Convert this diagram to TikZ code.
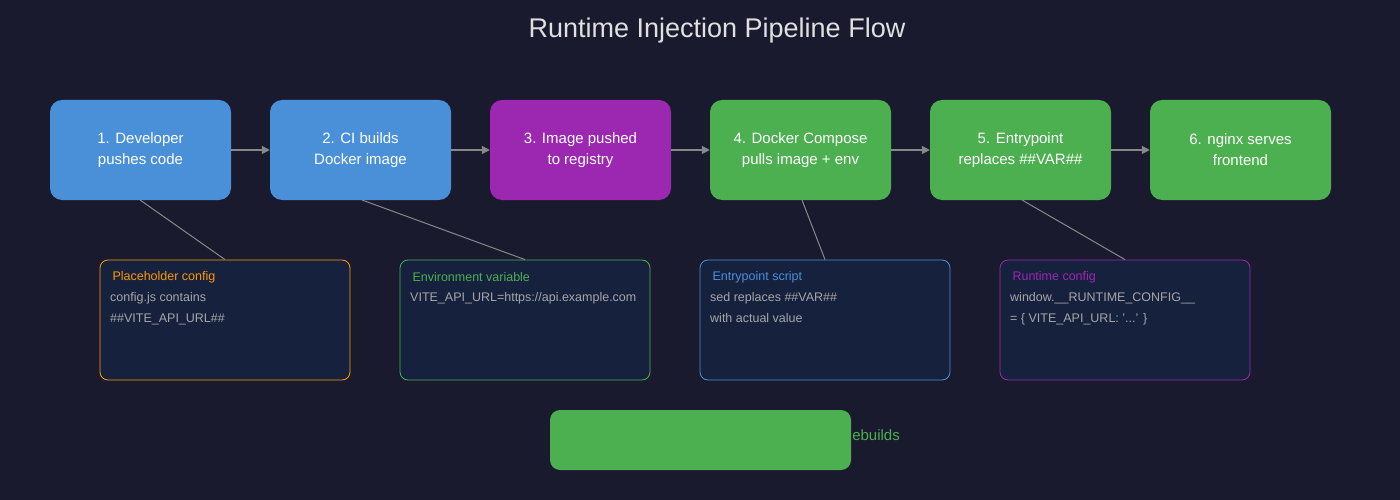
\documentclass[tikz,border=0pt]{standalone}
\usepackage{fontspec}
\setmainfont{Liberation Sans}
\usetikzlibrary{arrows.meta}
\definecolor{bg}{HTML}{1A1A2E}
\definecolor{cblue}{HTML}{4A90D9}
\definecolor{cpurple}{HTML}{9C27B0}
\definecolor{cgreen}{HTML}{4CAF50}
\definecolor{corange}{HTML}{FF9800}
\definecolor{notefill}{HTML}{16213E}
\definecolor{cgray}{HTML}{888888}
\begin{document}
\begin{tikzpicture}[x=1pt,y=-1pt,
 stagebox/.style={rounded corners=12pt,minimum width=181pt,minimum height=100pt,text=white,align=center,font=\fontsize{15}{21}\selectfont,inner sep=0pt},
 note/.style={draw,fill=notefill,rounded corners=8pt,minimum width=250pt,minimum height=120pt,line width=0.8pt},
 ntitle/.style={anchor=west,font=\fontsize{12.5}{15}\selectfont},
 nbody/.style={anchor=north west,align=left,text=gray!70!white,font=\fontsize{12.5}{21}\selectfont,inner sep=0pt},
 arr/.style={draw=cgray,line width=1.5pt,-{Triangle[length=8pt,width=8pt]}},
 link/.style={draw=cgray,line width=1pt}]
\fill[bg] (0,0) rectangle (1400,500);
\useasboundingbox (0,0) rectangle (1400,500);
\node[text=white!88!black,font=\fontsize{27}{30}\selectfont] (title) at (717,31) {Runtime Injection Pipeline Flow};
\node[stagebox,fill=cblue] (s1) at (140.5,150) {1. Developer\\pushes code};
\node[stagebox,fill=cblue] (s2) at (360.5,150) {2. CI builds\\Docker image};
\node[stagebox,fill=cpurple] (s3) at (580.5,150) {3. Image pushed\\to registry};
\node[stagebox,fill=cgreen] (s4) at (800.5,150) {4. Docker Compose\\pulls image + env};
\node[stagebox,fill=cgreen] (s5) at (1020.5,150) {5. Entrypoint\\replaces \#\#VAR\#\#};
\node[stagebox,fill=cgreen] (s6) at (1240.5,150) {6. nginx serves\\frontend};
\foreach \a/\b in {s1/s2,s2/s3,s3/s4,s4/s5,s5/s6} \draw[arr] (\a.east) -- (\b.west);
\node[note,draw=corange] (n1) at (225,320) {};
\node[note,draw=cgreen] (n2) at (525,320) {};
\node[note,draw=cblue] (n3) at (825,320) {};
\node[note,draw=cpurple] (n4) at (1125,320) {};
\coordinate (c1) at (140,200); \coordinate (c2) at (362,200);
\coordinate (c3) at (802,200); \coordinate (c4) at (1022,200);
\draw[link] (c1) -- (n1.north); \draw[link] (c2) -- (n2.north);
\draw[link] (c3) -- (n3.north); \draw[link] (c4) -- (n4.north);
\node[ntitle,text=corange] (t1) at (109,277) {Placeholder config};
\node[ntitle,text=cgreen] (t2) at (409,277) {Environment variable};
\node[ntitle,text=cblue] (t3) at (709,277) {Entrypoint script};
\node[ntitle,text=cpurple] (t4) at (1009,277) {Runtime config};
\node[nbody] (b1) at (110,292) {config.js contains\\\#\#VITE\_API\_URL\#\#};
\node[nbody] (b2) at (410,292) {VITE\_API\_URL=https://api.example.com};
\node[nbody] (b3) at (710,292) {sed replaces \#\#VAR\#\#\\with actual value};
\node[nbody] (b4) at (1010,292) {window.\_\_RUNTIME\_CONFIG\_\_\\= \{ VITE\_API\_URL: '...' \}};
\node[anchor=east,text=cgreen,font=\fontsize{15}{18}\selectfont,inner sep=0pt] (bt) at (900,435) {ebuilds};
\node[fill=cgreen,rounded corners=10pt,minimum width=301pt,minimum height=60pt,inner sep=0pt] (bb) at (700.5,440) {};
\end{tikzpicture}
\end{document}
